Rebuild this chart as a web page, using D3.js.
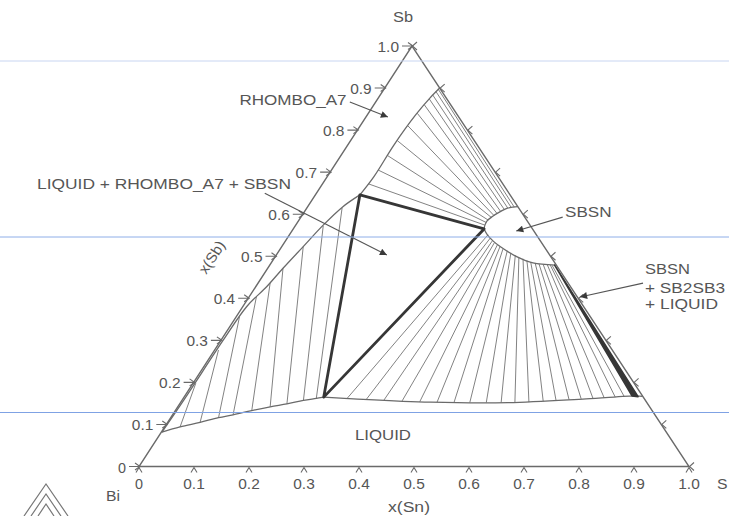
<!DOCTYPE html>
<html>
<head>
<meta charset="utf-8">
<script src="https://cdn.jsdelivr.net/npm/d3@7"></script>
<style>
  html, body { margin: 0; padding: 0; background: #fff; }
  svg { display: block; }
  text { font-family: 'Liberation Sans', Arial, sans-serif; fill: #565656; }
</style>
</head>
<body>
<div id="chart"></div>
<script>
// every composition is [x(Sn), x(Sb)]
const tickValues = [0, 0.1, 0.2, 0.3, 0.4, 0.5, 0.6, 0.7, 0.8, 0.9, 1.0];
const tickLabels = ['0', '0.1', '0.2', '0.3', '0.4', '0.5', '0.6', '0.7', '0.8', '0.9', '1.0'];

// corners of the LIQUID + RHOMBO_A7 + SBSN triangle
const threePhase = [[0.081, 0.646], [0.347, 0.565], [0.254, 0.165]];

// RHOMBO_A7 limit towards SBSN
const rhomboBoundary = [[0.100, 0.900], [0.094, 0.876], [0.088, 0.836], [0.084, 0.765], [0.085, 0.690], [0.081, 0.646]];
// RHOMBO_A7 limit towards LIQUID
const rhomboSolidus = [[0.001, 0.082], [0.003, 0.158], [0.004, 0.301], [0.007, 0.380], [0.020, 0.428], [0.028, 0.472],
  [0.039, 0.523], [0.050, 0.574], [0.064, 0.618], [0.081, 0.646]];
// LIQUID limit
const liquidLeft = [[0.001, 0.082], [0.028, 0.094], [0.059, 0.105], [0.087, 0.116], [0.110, 0.123], [0.139, 0.133],
  [0.168, 0.142], [0.195, 0.149], [0.221, 0.157], [0.242, 0.162], [0.254, 0.165]];
const liquidRight = [[0.254, 0.165], [0.310, 0.161], [0.454, 0.153], [0.596, 0.152], [0.733, 0.161], [0.820, 0.168], [0.833, 0.167]];
// SBSN single phase lens
const sbsnUpper = [[0.347, 0.565], [0.344, 0.574], [0.343, 0.584], [0.347, 0.594], [0.356, 0.606], [0.364, 0.614], [0.374, 0.617], [0.382, 0.618]];
const sbsnLower = [[0.347, 0.565], [0.360, 0.551], [0.378, 0.536], [0.397, 0.523], [0.439, 0.499], [0.476, 0.484], [0.519, 0.479]];
// SBSN + SB2SB3 + LIQUID sliver
const sb2sb3Band = [[0.518, 0.479], [0.813, 0.168], [0.825, 0.166]];

// tie lines
const tieRhomboSbsn = [
  [[0.098, 0.898], [0.376, 0.617]], [[0.097, 0.892], [0.371, 0.616]], [[0.095, 0.884], [0.366, 0.614]],
  [[0.094, 0.874], [0.361, 0.611]], [[0.092, 0.860], [0.356, 0.607]], [[0.089, 0.840], [0.352, 0.602]],
  [[0.087, 0.810], [0.349, 0.597]], [[0.085, 0.775], [0.347, 0.592]], [[0.084, 0.740], [0.344, 0.586]],
  [[0.085, 0.705], [0.344, 0.580]], [[0.084, 0.672], [0.344, 0.574]]
];
const tieLiquidRhombo = [
  [[0.005, 0.198], [0.028, 0.094]], [[0.007, 0.277], [0.059, 0.105]], [[0.006, 0.356], [0.087, 0.116]],
  [[0.013, 0.404], [0.110, 0.123]], [[0.022, 0.436], [0.139, 0.133]], [[0.028, 0.471], [0.168, 0.142]],
  [[0.039, 0.523], [0.195, 0.149]], [[0.051, 0.572], [0.221, 0.157]], [[0.064, 0.615], [0.242, 0.162]]
];
const tieLiquidSbsn = [
  [[0.361, 0.551], [0.298, 0.162]], [[0.369, 0.543], [0.334, 0.159]], [[0.376, 0.536], [0.367, 0.158]],
  [[0.382, 0.532], [0.401, 0.156]], [[0.390, 0.527], [0.434, 0.154]], [[0.397, 0.522], [0.466, 0.153]],
  [[0.405, 0.517], [0.497, 0.153]], [[0.415, 0.513], [0.526, 0.152]], [[0.424, 0.508], [0.556, 0.152]],
  [[0.435, 0.502], [0.583, 0.152]], [[0.444, 0.497], [0.608, 0.152]], [[0.453, 0.494], [0.633, 0.153]],
  [[0.462, 0.490], [0.658, 0.155]], [[0.471, 0.486], [0.681, 0.156]], [[0.480, 0.484], [0.703, 0.159]],
  [[0.488, 0.482], [0.724, 0.161]], [[0.496, 0.481], [0.745, 0.162]], [[0.504, 0.480], [0.765, 0.163]],
  [[0.510, 0.479], [0.784, 0.165]], [[0.514, 0.478], [0.800, 0.166]]
];

// label pointers, tail -> head, same composition frame
const pointers = [
  [[-0.047, 0.867], [0.040, 0.831]],
  [[-0.094, 0.650], [0.201, 0.503]],
  [[0.476, 0.593], [0.408, 0.560]],
  [[0.700, 0.436], [0.602, 0.403]]
];

const WIDTH = 729;
const HEIGHT = 516;
const INK = '#6a6a6a';
const DARK = '#363636';

const xScale = d3.scaleLinear().domain([0, 1]).range([139, 689]);
const yScale = d3.scaleLinear().domain([0, 1]).range([466.5, 46]);
const skew = d3.scaleLinear().domain([0, 1]).range([0, 273]);
const px = (p) => xScale(p[0]) + skew(p[1]);
const py = (p) => yScale(p[1]);
const path = d3.line().x(px).y(py);
const smooth = d3.line().x(px).y(py).curve(d3.curveCatmullRom.alpha(0.5));

const svg = d3.select('#chart').append('svg').attr('width', WIDTH).attr('height', HEIGHT);

svg.append('defs').append('marker')
  .attr('id', 'head')
  .attr('viewBox', '0 0 10 10')
  .attr('refX', 10).attr('refY', 5)
  .attr('markerUnits', 'userSpaceOnUse')
  .attr('markerWidth', 10).attr('markerHeight', 7)
  .attr('orient', 'auto')
  .append('path').attr('d', 'M0,0 L10,5 L0,10 z').attr('fill', '#3a3a3a');

// tie lines
const drawTies = (ties) => {
  svg.append('g')
    .selectAll('path')
    .data(ties)
    .join('path')
    .attr('d', (d) => path(d))
    .attr('fill', 'none')
    .attr('stroke', '#747474')
    .attr('stroke-width', 0.9);
};
drawTies(tieRhomboSbsn);
drawTies(tieLiquidRhombo);
drawTies(tieLiquidSbsn);

// phase boundaries
[rhomboBoundary, rhomboSolidus, liquidLeft, liquidRight, sbsnUpper, sbsnLower].forEach((b) => {
  svg.append('path')
    .datum(b)
    .attr('d', smooth)
    .attr('fill', 'none')
    .attr('stroke', INK)
    .attr('stroke-width', 1.3);
});

svg.append('path')
  .datum(sb2sb3Band)
  .attr('d', (d) => path(d) + 'Z')
  .attr('fill', DARK)
  .attr('stroke', DARK)
  .attr('stroke-width', 1.6)
  .attr('stroke-linejoin', 'round');

svg.append('path')
  .datum(threePhase)
  .attr('d', (d) => path(d) + 'Z')
  .attr('fill', 'none')
  .attr('stroke', DARK)
  .attr('stroke-width', 2.8)
  .attr('stroke-linejoin', 'round');

// triangle frame
const corners = [[0, 0], [1, 0], [0, 1]];
svg.append('path')
  .datum(corners)
  .attr('d', (d) => path(d) + 'Z')
  .attr('fill', 'none')
  .attr('stroke', INK)
  .attr('stroke-width', 1.4);

// ticks: chevrons pointing at each edge from outside
const ticks = svg.append('g').attr('fill', 'none').attr('stroke', INK).attr('stroke-width', 1.1);
tickValues.forEach((t) => {
  const bx = px([t, 0]), by = py([t, 0]);
  ticks.append('path').attr('d', `M${bx - 3},${by + 6} L${bx},${by + 1} L${bx + 3},${by + 6}`);
  const lx = px([0, t]), ly = py([0, t]);
  ticks.append('path').attr('d', `M${lx - 10},${ly} L${lx + 1},${ly} M${lx - 4},${ly - 3.5} L${lx + 1},${ly} L${lx - 4},${ly + 3.5}`);
  const rx = px([1 - t, t]), ry = py([1 - t, t]);
  ticks.append('path').attr('d', `M${rx + 5},${ry - 4} L${rx + 0.5},${ry} L${rx + 5},${ry + 4}`);
});

const addText = (str, x, y, len, size, anchor) => {
  const t = svg.append('text')
    .attr('x', x).attr('y', y)
    .attr('font-size', size)
    .attr('text-anchor', anchor || 'start')
    .text(str);
  if (len) t.attr('textLength', len).attr('lengthAdjust', 'spacingAndGlyphs');
  return t;
};

// tick labels
tickValues.forEach((t, i) => {
  const w = tickLabels[i].length > 1 ? 21.5 : 8;
  addText(tickLabels[i], px([t, 0]), 489, w, 14, 'middle');
  addText(tickLabels[i], px([0, t]) - 13, py([0, t]) + 6, w, 14, 'end');
});

addText('Sb', 393, 21.5, 20, 14);
addText('Bi', 106, 501, 14, 14);
addText('S', 717, 489, 10.5, 14);
addText('x(Sn)', 388, 512, 42, 14.5);
addText('x(Sb)', 0, 0, 36, 14.5, 'middle').attr('transform', 'translate(216,260) rotate(-57)');

addText('RHOMBO_A7', 239.5, 105, 107, 15.5);
addText('LIQUID + RHOMBO_A7 + SBSN', 37, 189, 254, 15.5);
addText('SBSN', 565, 217.3, 46.5, 15.5);
addText('SBSN', 645, 274.3, 45, 15.5);
addText('+ SB2SB3', 645, 292.7, 80, 15.5);
addText('+ LIQUID', 645, 309.3, 73, 15.5);
addText('LIQUID', 355, 440, 56, 15.5);

// label pointers
svg.append('g')
  .selectAll('path')
  .data(pointers)
  .join('path')
  .attr('d', (d) => path(d))
  .attr('stroke', '#555')
  .attr('stroke-width', 1.1)
  .attr('marker-end', 'url(#head)');

// stray thumbnail at the lower-left of the scan
svg.append('path')
  .attr('d', 'M24,516 L46,484 L68,516 M31,516 L46,494 L61,516 M38,516 L46,504 L54,516')
  .attr('fill', 'none')
  .attr('stroke', '#777')
  .attr('stroke-width', 1.2);

// faint ruled lines of the scanned page
svg.append('g')
  .selectAll('line')
  .data([{ y: 61, c: '#c8d5f1' }, { y: 237, c: '#8eaee8' }, { y: 412.5, c: '#7fa2e4' }])
  .join('line')
  .attr('x1', 0).attr('x2', WIDTH)
  .attr('y1', (d) => d.y).attr('y2', (d) => d.y)
  .attr('stroke', (d) => d.c)
  .attr('stroke-width', 1);
</script>
</body>
</html>
